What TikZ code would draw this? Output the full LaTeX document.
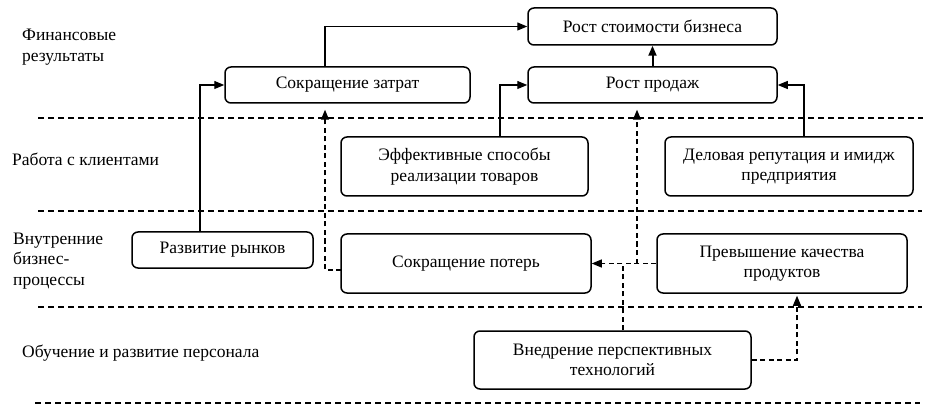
\documentclass[tikz,border=0pt]{standalone}
\usepackage{fontspec}
\setmainfont{Liberation Serif}
\usetikzlibrary{arrows.meta}
\begin{document}
\begin{tikzpicture}[x=1pt,y=-1pt,
  box/.style={draw,line width=1.5pt,rounded corners=6pt,inner sep=0pt,align=center,
    font=\fontsize{17.5}{20.5}\selectfont},
  lab/.style={anchor=west,inner sep=0pt,align=left,font=\fontsize{17.5}{20.5}\selectfont},
  sep/.style={dashed,dash pattern=on 6pt off 4pt,line width=1.3pt},
  conn/.style={line width=1.2pt,-{Triangle[length=10pt,width=8pt]}},
  dconn/.style={line width=1.2pt,dash pattern=on 5pt off 3.5pt,-{Triangle[length=10pt,width=8pt]}},
  dline/.style={line width=1.2pt,dash pattern=on 5pt off 3.5pt}]
\useasboundingbox (0,0) rectangle (938,417);
% lane separators
\coordinate (s1a) at (38,118); \coordinate (s1b) at (923,118);
\coordinate (s2a) at (38,211); \coordinate (s2b) at (922,211);
\coordinate (s3a) at (38,307); \coordinate (s3b) at (922,307);
\coordinate (s4a) at (35,403); \coordinate (s4b) at (920,403);
\draw[sep] (s1a) -- (s1b);
\draw[sep] (s2a) -- (s2b);
\draw[sep] (s3a) -- (s3b);
\draw[sep] (s4a) -- (s4b);
% lane labels
\node[lab] (l1) at (22,47) {Финансовые\\результаты};
\node[lab] (l2) at (12,159) {Работа с клиентами};
\node[lab] (l3) at (13,261) {Внутренние\\бизнес-\\процессы};
\node[lab] (l4) at (22,353) {Обучение и развитие персонала};
% boxes
\node[box,minimum width=249pt,minimum height=37pt] (stoim) at (652.5,26.5) {Рост стоимости бизнеса};
\node[box,minimum width=245pt,minimum height=36pt] (zatrat) at (347.5,85) {Сокращение затрат};
\node[box,minimum width=249pt,minimum height=36pt] (prodazh) at (652.5,85) {Рост продаж};
\node[box,minimum width=247pt,minimum height=59pt] (effekt) at (464.5,166.5) {Эффективные способы\\реализации товаров};
\node[box,minimum width=248pt,minimum height=59pt] (delov) at (789,166.5) {Деловая репутация и имидж\\предприятия};
\node[box,minimum width=181pt,minimum height=36pt] (razv) at (222.5,250) {Развитие рынков};
\node[box,minimum width=250pt,minimum height=59pt] (poter) at (466,263.5) {Сокращение потерь};
\node[box,minimum width=250pt,minimum height=59pt] (prev) at (782,263.5) {Превышение качества\\продуктов};
\node[box,minimum width=277pt,minimum height=58pt] (vnedr) at (612.5,360) {Внедрение перспективных\\технологий};
% helper coordinates
\coordinate (x325) at (325,0);
\coordinate (x200) at (200,0);
\coordinate (x500) at (500,0);
\coordinate (x804) at (804,0);
\coordinate (pw) at (341,270);
\coordinate (j1) at (637,263.5);
\coordinate (j2) at (623,263.5);
\coordinate (x797) at (797,0);
% solid connectors
\draw[conn] (zatrat.north -| x325) |- (stoim.west);
\draw[line width=2pt,-{Triangle[length=10pt,width=8pt]}] (prodazh.north) -- (stoim.south);
\draw[conn] (razv.north -| x200) |- (zatrat.west);
\draw[conn] (effekt.north -| x500) |- (prodazh.west);
\draw[conn] (delov.north -| x804) |- (prodazh.east);
% dashed connectors
\draw[dconn,shorten >=6pt] (pw) -| (zatrat.south -| x325);
\draw[dconn] (prev.west) -- (poter.east);
\draw[dconn,shorten >=6pt] (j1) -- (j1 |- prodazh.south);
\draw[dline] (vnedr.north -| j2) -- (j2);
\draw[dconn,shorten >=2pt] (vnedr.east) -| (prev.south -| x797);
\end{tikzpicture}
\end{document}
